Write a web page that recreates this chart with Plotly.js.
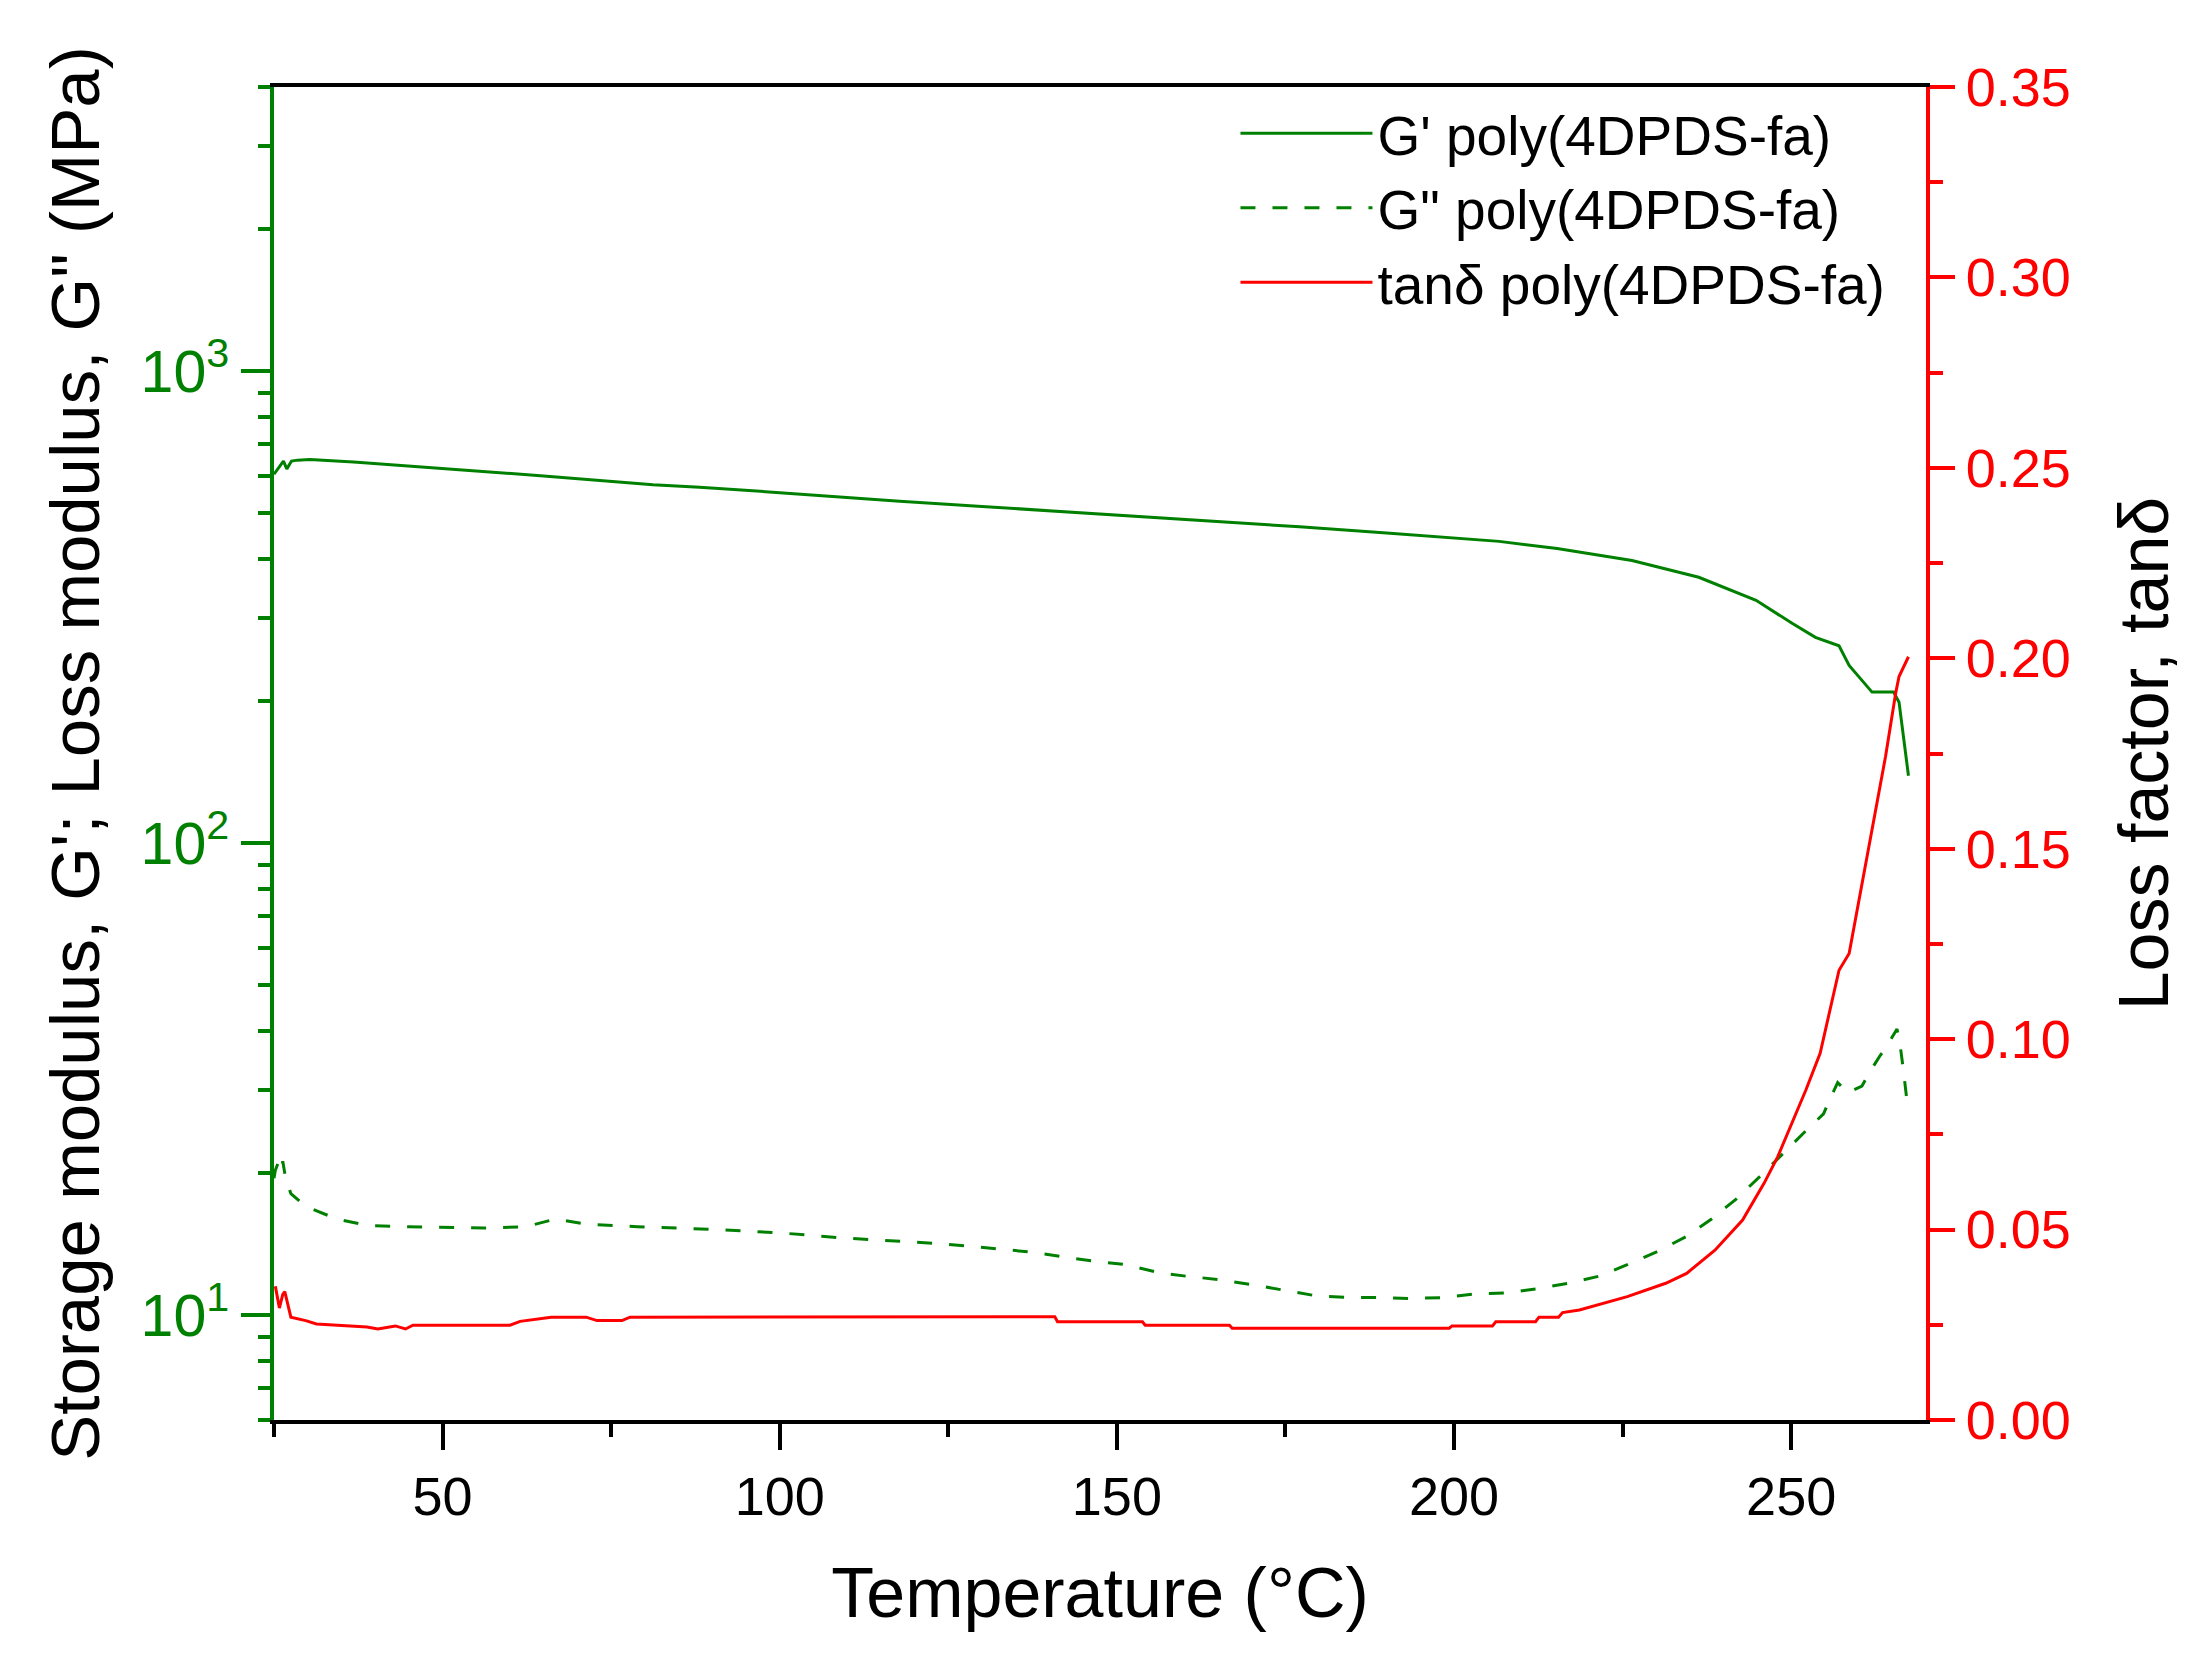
<!DOCTYPE html>
<html>
<head>
<meta charset="utf-8">
<script src="https://cdn.plot.ly/plotly-3.0.1.min.js"></script>
<style>
   html, body { margin: 0; padding: 0; background: white; }
   #chart { width: 2204px; height: 1667px; }
</style>
</head>
<body>
<div id="chart"></div>
<script>

// Temperature (°C) and readings
const gpTemp = [25.0, 25.9, 26.4, 26.9, 27.6, 28.5, 30.3, 36.8, 44.0, 52.6, 65.0, 81.2, 88.1, 100.0,
   117.8, 130.0, 147.4, 160.0, 177.1, 190.0, 206.7, 215.3, 226.4, 236.3, 244.8, 250.2, 253.6,
   257.1, 258.6, 262.0, 265.2, 266.0, 266.7, 267.4];
const gpValue = [605, 631, 645, 621, 645, 648, 650, 642, 631, 620, 600, 575, 568, 553,
   530, 517, 499, 486, 468, 454, 436, 421, 397, 366, 327, 292, 273,
   262, 238, 209, 209, 199, 166, 139];

const gppTemp = [25.0, 25.2, 25.6, 26.0, 26.3, 26.7, 27.5, 29.7, 34.3, 38.8, 44.9, 56.2, 62.3, 66.8,
   71.3, 78.9, 90.3, 100.0, 108.9, 118.3, 123.2, 128.2, 132.6, 137.5, 142.0, 146.9, 151.4,
   156.3, 160.3, 165.2, 170.2, 174.6, 179.5, 184.5, 188.9, 193.4, 198.3, 203.3, 207.7, 212.6,
   217.1, 221.5, 225.7, 230.4, 234.5, 238.2, 241.8, 245.4, 248.6, 252.2, 254.8, 255.6, 256.9,
   258.4, 260.5, 261.8, 263.2, 264.2, 265.7, 266.2, 266.6, 267.3];
const gppValue = [19.5, 20.3, 21.0, 20.2, 21.2, 19.6, 18.1, 17.0, 16.0, 15.5, 15.4, 15.3, 15.4, 16.0,
   15.6, 15.4, 15.2, 14.95, 14.6, 14.35, 14.2, 14.0, 13.8, 13.6, 13.3, 13.0, 12.8,
   12.3, 12.1, 11.9, 11.6, 11.3, 11.0, 10.9, 10.9, 10.85, 10.9, 11.1, 11.15, 11.4,
   11.7, 12.1, 12.8, 13.7, 14.7, 16.0, 17.6, 19.7, 21.9, 24.6, 26.7, 28.4, 31.1,
   29.6, 30.6, 33.0, 35.5, 37.2, 40.4, 37.0, 33.5, 27.5];

const tanTemp = [25.2, 25.8, 26.3, 26.6, 27.5, 29.7, 31.3, 38.8, 40.4, 43.0, 44.5, 45.6, 60.0, 61.5,
   66.1, 71.3, 72.9, 76.6, 77.8, 100.0, 140.8, 141.2, 153.8, 154.2, 166.7, 167.1, 199.3, 199.7,
   205.7, 206.2, 212.1, 212.6, 215.5, 216.1, 218.6, 225.7, 231.4, 234.5, 238.7, 242.8, 246.0,
   248.0, 250.1, 252.2, 254.3, 255.8, 256.1, 257.1, 258.6, 261.0, 262.5, 264.0, 265.5, 266.0, 267.4];
const tanValue = [0.0351, 0.0294, 0.0330, 0.0337, 0.0270, 0.0261, 0.0252, 0.0244, 0.0239, 0.0247, 0.0239, 0.0249, 0.0249, 0.0259,
   0.0270, 0.0270, 0.0261, 0.0261, 0.0270, 0.0271, 0.0271, 0.0258, 0.0258, 0.0249, 0.0249, 0.0241, 0.0241, 0.0247,
   0.0247, 0.0258, 0.0258, 0.0270, 0.0270, 0.0282, 0.0289, 0.0324, 0.0359, 0.0385, 0.0446, 0.0525, 0.0622,
   0.0691, 0.0779, 0.0867, 0.0963, 0.1077, 0.1103, 0.1181, 0.1225, 0.1453, 0.1602, 0.1742, 0.1908, 0.1952, 0.2004];

// left axis decade labels
const modulusTicks = [10, 100, 1000];
const modulusLabels = ['10<sup>1</sup>', '10<sup>2</sup>', '10<sup>3</sup>'];

const green = '#008000';
const red = '#ff0000';
const fontFamily = 'Liberation Sans, Arial, sans-serif';

const traces = [{
   name: "G' poly(4DPDS-fa)",
   x: gpTemp, y: gpValue,
   mode: 'lines',
   line: { color: green, width: 3 }
}, {
   name: 'G" poly(4DPDS-fa)',
   x: gppTemp, y: gppValue,
   mode: 'lines',
   line: { color: green, width: 3, dash: '15px,17px' }
}, {
   name: 'tanδ poly(4DPDS-fa)',
   x: tanTemp, y: tanValue,
   yaxis: 'y2',
   mode: 'lines',
   line: { color: red, width: 3 }
}];

const layout = {
   width: 2204,
   height: 1667,
   margin: { l: 274, r: 278, t: 87, b: 247 },
   paper_bgcolor: 'white',
   plot_bgcolor: 'white',
   font: { family: fontFamily, size: 54, color: 'black' },
   showlegend: true,
   legend: {
      x: 0.582, y: 0.997, xanchor: 'left', yanchor: 'top',
      bgcolor: 'rgba(0,0,0,0)',
      font: { size: 55 },
      itemwidth: 132,
      tracegroupgap: 0
   },
   xaxis: {
      range: [25, 270],
      tick0: 0, dtick: 50,
      ticks: 'outside', ticklen: 26, tickwidth: 4, tickcolor: 'black',
      showline: true, linewidth: 4, linecolor: 'black', mirror: true,
      showgrid: false, zeroline: false,
      tickfont: { size: 54, color: 'black' },
      minor: { dtick: 25, ticks: 'outside', ticklen: 13, tickwidth: 4, tickcolor: 'black' },
      title: { text: 'Temperature (°C)', font: { size: 70 }, standoff: 44 }
   },
   yaxis: {
      type: 'log',
      range: [Math.log10(6), Math.log10(4000)],
      tickvals: modulusTicks,
      ticktext: modulusLabels,
      ticks: 'outside', ticklen: 29, tickwidth: 4, tickcolor: green,
      showline: true, linewidth: 4, linecolor: green,
      showgrid: false, zeroline: false,
      tickfont: { size: 59, color: green },
      minor: { dtick: 'D1', ticks: 'outside', ticklen: 12, tickwidth: 4, tickcolor: green },
      title: { text: "Storage modulus, G'; Loss modulus, G\" (MPa)", font: { size: 69 }, standoff: 19 }
   },
   yaxis2: {
      overlaying: 'y', side: 'right',
      range: [0, 0.35],
      tick0: 0, dtick: 0.05, tickformat: '.2f',
      ticks: 'outside', ticklen: 25, tickwidth: 4, tickcolor: red,
      showline: true, linewidth: 4, linecolor: red,
      showgrid: false, zeroline: false,
      tickfont: { size: 54, color: red },
      minor: { dtick: 0.025, ticks: 'outside', ticklen: 13, tickwidth: 4, tickcolor: red },
      title: { text: 'Loss factor, tanδ', font: { size: 70 }, standoff: 50 }
   }
};

Plotly.newPlot('chart', traces, layout, { staticPlot: true });

</script>
</body>
</html>
